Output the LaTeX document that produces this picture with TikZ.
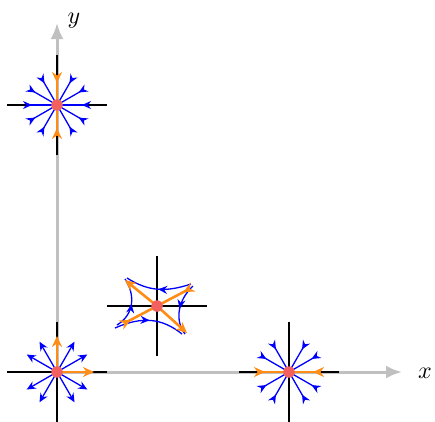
\documentclass[tikz,border=0pt]{standalone}
\usetikzlibrary{arrows.meta,decorations.markings}
\definecolor{eqred}{RGB}{242,96,96}
\definecolor{manor}{RGB}{255,140,20}
\definecolor{axgray}{RGB}{192,192,192}
\begin{document}
\begin{tikzpicture}[x=1pt,y=-1pt,
  axis/.style={axgray, line width=3pt, -{Latex[length=16pt,width=13pt]}},
  crossline/.style={black, line width=2pt},
  flowout/.style={blue, line width=1.3pt, -{Stealth[length=9pt,width=8pt]}},
  flowin/.style={blue, line width=1.3pt, -{Stealth[length=9pt,width=8pt,reversed]}},
  manout/.style={manor, line width=2.6pt, -{Stealth[length=11pt,width=10pt]}},
  manin/.style={manor, line width=2.6pt, -{Stealth[length=11pt,width=10pt,reversed]}},
  eqpt/.style={circle, fill=eqred, inner sep=0pt, minimum size=11.5pt},
  traj/.style={blue, line width=1.3pt, postaction=decorate,
    decoration={markings, mark=at position 0.5 with {\arrow{Stealth[length=9pt,width=8pt]}}}},
  lab/.style={scale=2.4, inner sep=0pt}
]
\useasboundingbox (0,0) rectangle (435,421);
\coordinate (O) at (57,372);
\coordinate (K) at (289,372);
\coordinate (L) at (57,105);
\coordinate (S) at (157,306);
\coordinate (xend) at (402,372);
\coordinate (yend) at (57,23);
% axes
\draw[axis] (O) -- (xend);
\draw[axis] (O) -- (yend);
\node[lab] (xl) at (425,373) {$x$};
\node[lab] (yl) at (74,21) {$y$};
% crosses
\foreach \p in {O,K,L,S}{
  \draw[crossline] ([xshift=-50pt]\p) -- ([xshift=50pt]\p);
  \draw[crossline] ([yshift=-50pt]\p) -- ([yshift=50pt]\p);
}
% source at origin
\begin{scope}[shift={(O)}]
  \foreach \a in {30,60,120,150,210,240,300,330}
    \draw[flowout] (0,0) -- (\a:35);
  \draw[manout] (0,0) -- (37,0);
  \draw[manout] (0,0) -- (0,-36);
\end{scope}
% stable node on y axis
\begin{scope}[shift={(L)}]
  \foreach \a in {0,30,60,120,150,180,210,240,300,330}
    \draw[flowin] (0,0) -- (\a:34);
  \draw[manin] (0,0) -- (0,-33);
  \draw[manin] (0,0) -- (0,34);
\end{scope}
% stable node on x axis
\begin{scope}[shift={(K)}]
  \foreach \a in {30,60,120,150,210,240,300,330}
    \draw[flowin] (0,0) -- (\a:35);
  \draw[manin] (0,0) -- (35,0);
  \draw[manin] (0,0) -- (-35,0);
\end{scope}
% saddle
\begin{scope}[shift={(S)}]
  \draw[traj] (34,-22) .. controls (10,-14) and (-8,-14) .. (-30,-28);
  \draw[traj] (-40,19) .. controls (-22,8) and (-22,-12) .. (-32,-27);
  \draw[traj] (-42,22) .. controls (-15,10) and (5,12) .. (25,28);
  \draw[traj] (36,-20) .. controls (20,-5) and (18,15) .. (28,28);
  \draw[manout] (0,0) -- (-32,-26);
  \draw[manout] (0,0) -- (30,27);
  \draw[manin] (0,0) -- (36,-19);
  \draw[manin] (0,0) -- (-36,19);
\end{scope}
% equilibria
\node[eqpt] (o) at (O) {};
\node[eqpt] (k) at (K) {};
\node[eqpt] (l) at (L) {};
\node[eqpt] (s) at (S) {};
\end{tikzpicture}
\end{document}
